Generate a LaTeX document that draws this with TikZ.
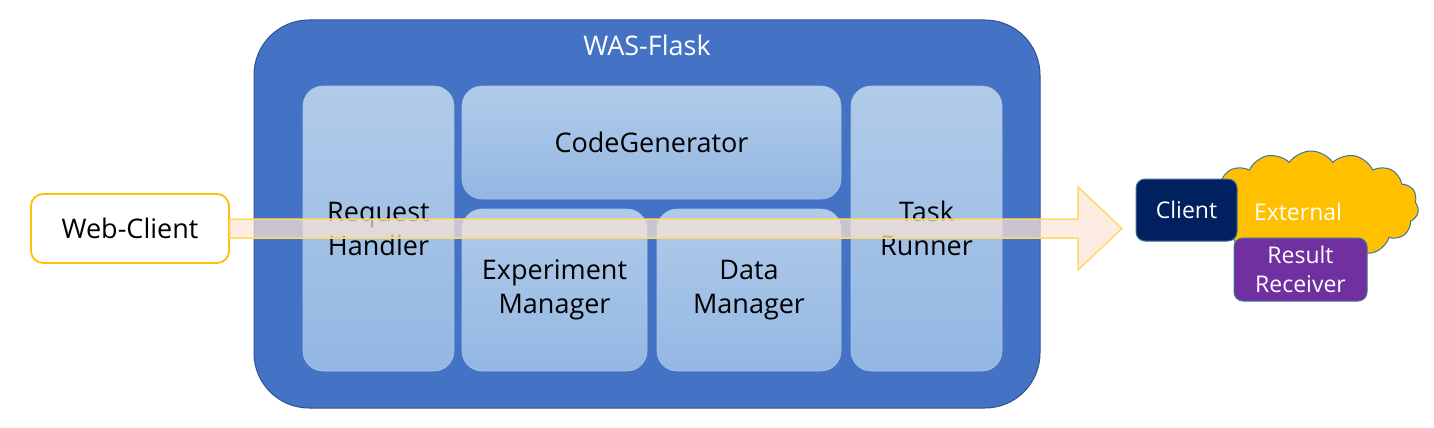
\documentclass[tikz,border=0pt]{standalone}
\usepackage{fontspec}
\setmainfont{Open Sans}
\usetikzlibrary{shapes.symbols,calc}
\definecolor{outerblue}{HTML}{4472C4}
\definecolor{outerline}{HTML}{2F528F}
\definecolor{innertop}{HTML}{B1CBE9}
\definecolor{innerbot}{HTML}{93B7E3}
\definecolor{innerline}{HTML}{A8C3E6}
\definecolor{gold}{HTML}{FFC000}
\definecolor{peach}{HTML}{FBE5D6}
\definecolor{arrowline}{HTML}{FFD966}
\definecolor{navy}{HTML}{002060}
\definecolor{purp}{HTML}{7030A0}
\definecolor{steel}{HTML}{41719C}
\tikzset{
  inner/.style={rectangle, rounded corners=20, top color=innertop, bottom color=innerbot,
    draw=innerline, line width=0.6, inner sep=0, align=center,
    font=\fontsize{27}{34}\selectfont, text=black},
  smallbox/.style={rectangle, rounded corners=9, draw=steel, line width=1, inner sep=0,
    align=center, text=white, font=\fontsize{23}{29}\selectfont},
  bigarrow/.style={fill=peach, fill opacity=0.72, draw=arrowline, line width=1.5},
}
\begin{document}
\begin{tikzpicture}[x=1pt,y=-1pt]
\useasboundingbox (0,0) rectangle (1434,428);
% outer container
\node[rectangle, rounded corners=55, fill=outerblue, draw=outerline, line width=1,
  minimum width=786, minimum height=388, inner sep=0] (was) at (647,214) {};
\node[text=white, font=\fontsize{27}{30}\selectfont] (wastitle) at (647,45) {WAS-Flask};
% inner components
\node[inner, minimum width=151, minimum height=285] (req) at (378.5,228.5) {Request\\Handler};
\node[inner, minimum width=379, minimum height=113] (cg) at (651.5,142.5) {CodeGenerator};
\node[inner, minimum width=185, minimum height=162] (em) at (554.5,290) {Experiment\\Manager};
\node[inner, minimum width=184, minimum height=162] (dm) at (749,290) {Data\\Manager};
\node[inner, minimum width=151, minimum height=285] (tr) at (926.5,228.5) {Task\\Runner};
% web client
\node[rectangle, rounded corners=12, fill=white, draw=gold, line width=1.8,
  minimum width=198, minimum height=69, inner sep=0,
  font=\fontsize{27}{30}\selectfont] (wc) at (130,228.5) {Web-Client};
% external cloud
\node[cloud, cloud puffs=15, cloud puff arc=110, aspect=2.0, fill=gold, draw=steel,
  line width=1, minimum width=215, minimum height=112, inner sep=0] (cloud) at (1311,207) {};
\node[text=white, font=\fontsize{23}{29}\selectfont] (ext) at (1298,212) {External};
\node[smallbox, fill=navy, minimum width=101, minimum height=62] (cl) at (1186.5,210) {Client};
\node[smallbox, fill=purp, minimum width=133, minimum height=63] (rr) at (1300.5,269.5) {Result\\Receiver};
% big arrow from web client towards external
\coordinate (tip) at (1122,228.5);
\draw[bigarrow]
  ($(wc.east)+(0,-9.5)$) -- ($(tip)+(-44,-9.5)$) -- ($(tip)+(-44,-41.5)$) -- (tip)
  -- ($(tip)+(-44,41.5)$) -- ($(tip)+(-44,9.5)$) -- ($(wc.east)+(0,9.5)$) -- cycle;
\end{tikzpicture}
\end{document}
